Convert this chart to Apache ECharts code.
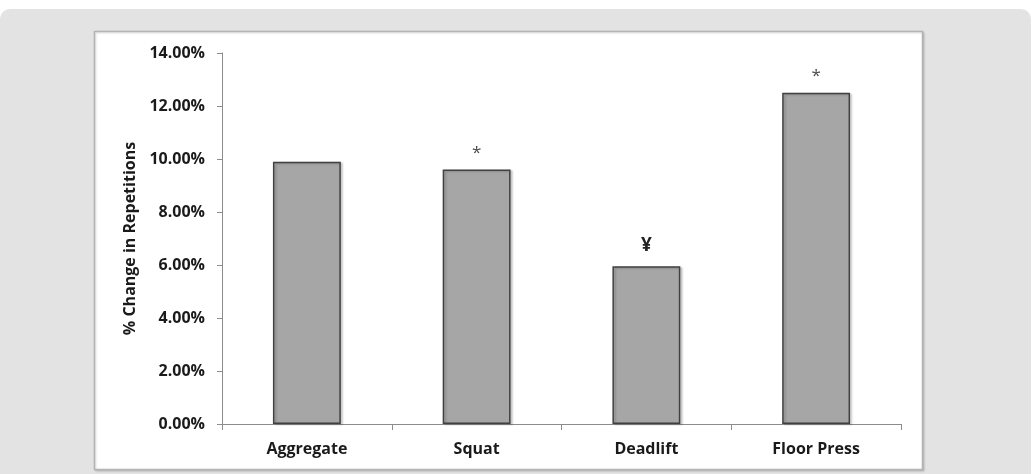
<!DOCTYPE html>
<html>
<head>
<meta charset="utf-8">
<script src="https://cdn.jsdelivr.net/npm/echarts@6/dist/echarts.min.js"></script>
<style>
html,body{margin:0;padding:0;background:#ffffff;}
#c{width:1033px;height:474px;}
</style>
</head>
<body>
<div id="c"></div>
<script>
const categories = ['Aggregate', 'Squat', 'Deadlift', 'Floor Press'];
const values = [9.9, 9.6, 5.95, 12.5];
const annotations = ['', '*', '¥', '*'];
const yTicks = [0, 2, 4, 6, 8, 10, 12, 14];

const FONT = '"Open Sans", "Liberation Sans", sans-serif';
const chart = echarts.init(document.getElementById('c'), null, {renderer: 'canvas'});

const data = values.map((v, i) => ({
  value: v,
  label: {
    show: annotations[i] !== '',
    formatter: annotations[i] === '¥' ? '{y|¥}' : '{s|*}'
  }
}));

chart.setOption({
  animation: false,
  backgroundColor: '#ffffff',
  graphic: [
    {type: 'rect', z: -10, silent: true,
     shape: {x: 0, y: 9, width: 1031, height: 480, r: 10},
     style: {fill: '#e3e3e3'}},
    {type: 'rect', z: -9, silent: true,
     shape: {x: 94.5, y: 31.5, width: 828, height: 438},
     style: {fill: '#ffffff', stroke: '#b4b4b4', lineWidth: 1.5,
             shadowBlur: 2, shadowColor: 'rgba(0,0,0,0.15)', shadowOffsetX: 1, shadowOffsetY: 1}}
  ],
  grid: {left: 222, right: 132, top: 53, bottom: 50, containLabel: false},
  xAxis: {
    type: 'category',
    data: categories,
    axisLine: {lineStyle: {color: '#8c8c8c', width: 1}},
    axisTick: {show: true, length: 6, lineStyle: {color: '#8c8c8c'}},
    axisLabel: {color: '#1a1a1a', fontFamily: FONT, fontWeight: 'bold', fontSize: 16, margin: 17},
    splitLine: {show: false}
  },
  yAxis: {
    type: 'value',
    min: yTicks[0],
    max: yTicks[yTicks.length - 1],
    interval: 2,
    name: '% Change in Repetitions',
    nameLocation: 'middle',
    nameGap: 79,
    nameTextStyle: {color: '#1a1a1a', fontFamily: FONT, fontWeight: 'bold', fontSize: 16},
    axisLine: {show: true, lineStyle: {color: '#8c8c8c', width: 1}},
    axisTick: {show: true, length: 5, lineStyle: {color: '#8c8c8c'}},
    axisLabel: {
      color: '#1a1a1a', fontFamily: FONT, fontWeight: 'bold', fontSize: 16, margin: 17,
      formatter: v => v.toFixed(2) + '%'
    },
    splitLine: {show: false}
  },
  series: [{
    type: 'bar',
    data: data,
    barWidth: '40%',
    itemStyle: {color: '#a6a6a6', borderColor: '#404040', borderWidth: 1.5,
                shadowBlur: 2, shadowColor: 'rgba(0,0,0,0.18)', shadowOffsetX: 2, shadowOffsetY: 1},
    label: {
      position: 'top',
      distance: 8,
      rich: {
        s: {fontFamily: FONT, fontSize: 17, color: '#4a4a4a', fontWeight: 'normal'},
        y: {fontFamily: FONT, fontSize: 19, color: '#222222', fontWeight: 'bold', padding: [0, 0, 3, 0]}
      }
    }
  }]
});
</script>
</body>
</html>
